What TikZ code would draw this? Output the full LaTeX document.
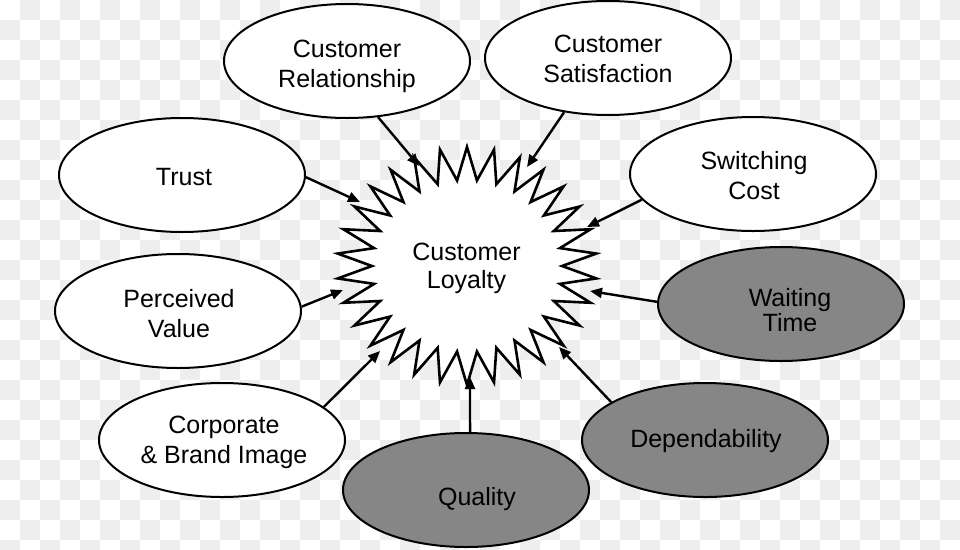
\documentclass[tikz,border=0pt]{standalone}
\usepackage{fontspec}
\setmainfont{Liberation Sans}
\usetikzlibrary{shapes.geometric,arrows.meta}
\definecolor{checker}{RGB}{238,238,238}
\definecolor{darkfill}{RGB}{134,134,134}
\definecolor{ink}{RGB}{0,0,0}
\begin{document}
\begin{tikzpicture}[x=1pt,y=-1pt,
  bubble/.style={ellipse, draw=ink, line width=2pt, fill=white, minimum width=246pt, minimum height=114pt, inner sep=0pt},
  darkbubble/.style={bubble, fill=darkfill},
  lbl/.style={align=center, inner sep=0pt, text=ink, font=\fontsize{25}{30}\selectfont},
  link/.style={draw=ink, line width=2.4pt, -{Triangle[length=12pt,width=10pt]}},
  burst/.style={draw=ink, line width=2.6pt, fill=white, line join=miter}]
\useasboundingbox (0,0) rectangle (960,549);
% transparency checker background
\fill[white] (0,0) rectangle (960,549);
\begin{scope}
\clip (0,0) rectangle (960,549);
\foreach \i in {0,...,47}{\foreach \j in {0,...,27}{%
  \pgfmathtruncatemacro\cellodd{mod(\i+\j,2)}%
  \ifnum\cellodd=1 \fill[checker] (20*\i,20*\j) rectangle ++(20,20);\fi}}
\end{scope}
% star burst
\draw[burst] ({467+130*cos(90)},{266+119*sin(90)})
  \foreach \k in {1,...,59}{ -- ({467+ifthenelse(mod(\k,2)==0,130,95)*cos(90+6*\k)},{266+ifthenelse(mod(\k,2)==0,119,86)*sin(90+6*\k)}) } -- cycle;
\node[lbl, font=\fontsize{25}{28}\selectfont] (loyalty) at (466.5,268) {Customer\\Loyalty};
% ellipses
\node[bubble] (cr) at (347,61) {};
\node[bubble] (cs) at (608,58) {};
\node[bubble] (tr) at (182,175) {};
\node[bubble] (sc) at (753,174) {};
\node[bubble] (pv) at (178,311) {};
\node[darkbubble] (wt) at (781,304) {};
\node[bubble] (co) at (222,440) {};
\node[darkbubble] (de) at (705,440) {};
\node[darkbubble] (qu) at (466,490) {};
% arrow tips on the burst
\coordinate (tcr) at (419,166);
\coordinate (tcs) at (527,167);
\coordinate (ttr) at (360,202);
\coordinate (tsc) at (587,227);
\coordinate (tpv) at (343,290);
\coordinate (twt) at (590,291);
\coordinate (tco) at (380,351);
\coordinate (tde) at (559,347);
\coordinate (tqu) at (470,377);
\draw[link] (cr.-61.5) -- (tcr);
\draw[link] (cs.-129) -- (tcs);
\draw[link] (tr.-1) -- (ttr);
\draw[link] (sc.-167) -- (tsc);
\draw[link] (pv.2.3) -- (tpv);
\draw[link] (wt.179) -- (twt);
\draw[link] (co.18) -- (tco);
\draw[link] (de.158) -- (tde);
\draw[link] (qu.86) -- (tqu);
% labels
\node[lbl] (crt) at (347,66.6) {Customer\\Relationship};
\node[lbl] (cst) at (608,59) {Customer\\Satisfaction};
\node[lbl] (trt) at (184,177) {Trust};
\node[lbl] (sct) at (754,176) {Switching\\Cost};
\node[lbl] (pvt) at (179,313.5) {Perceived\\Value};
\node[lbl, font=\fontsize{25}{23}\selectfont] (wtt) at (790,310) {Waiting\\Time};
\node[lbl] (cot) at (224,442.6) {Corporate\\\& Brand Image};
\node[lbl] (det) at (706,440.6) {Dependability};
\node[lbl] (qut) at (477,498.6) {Quality};
\end{tikzpicture}
\end{document}
